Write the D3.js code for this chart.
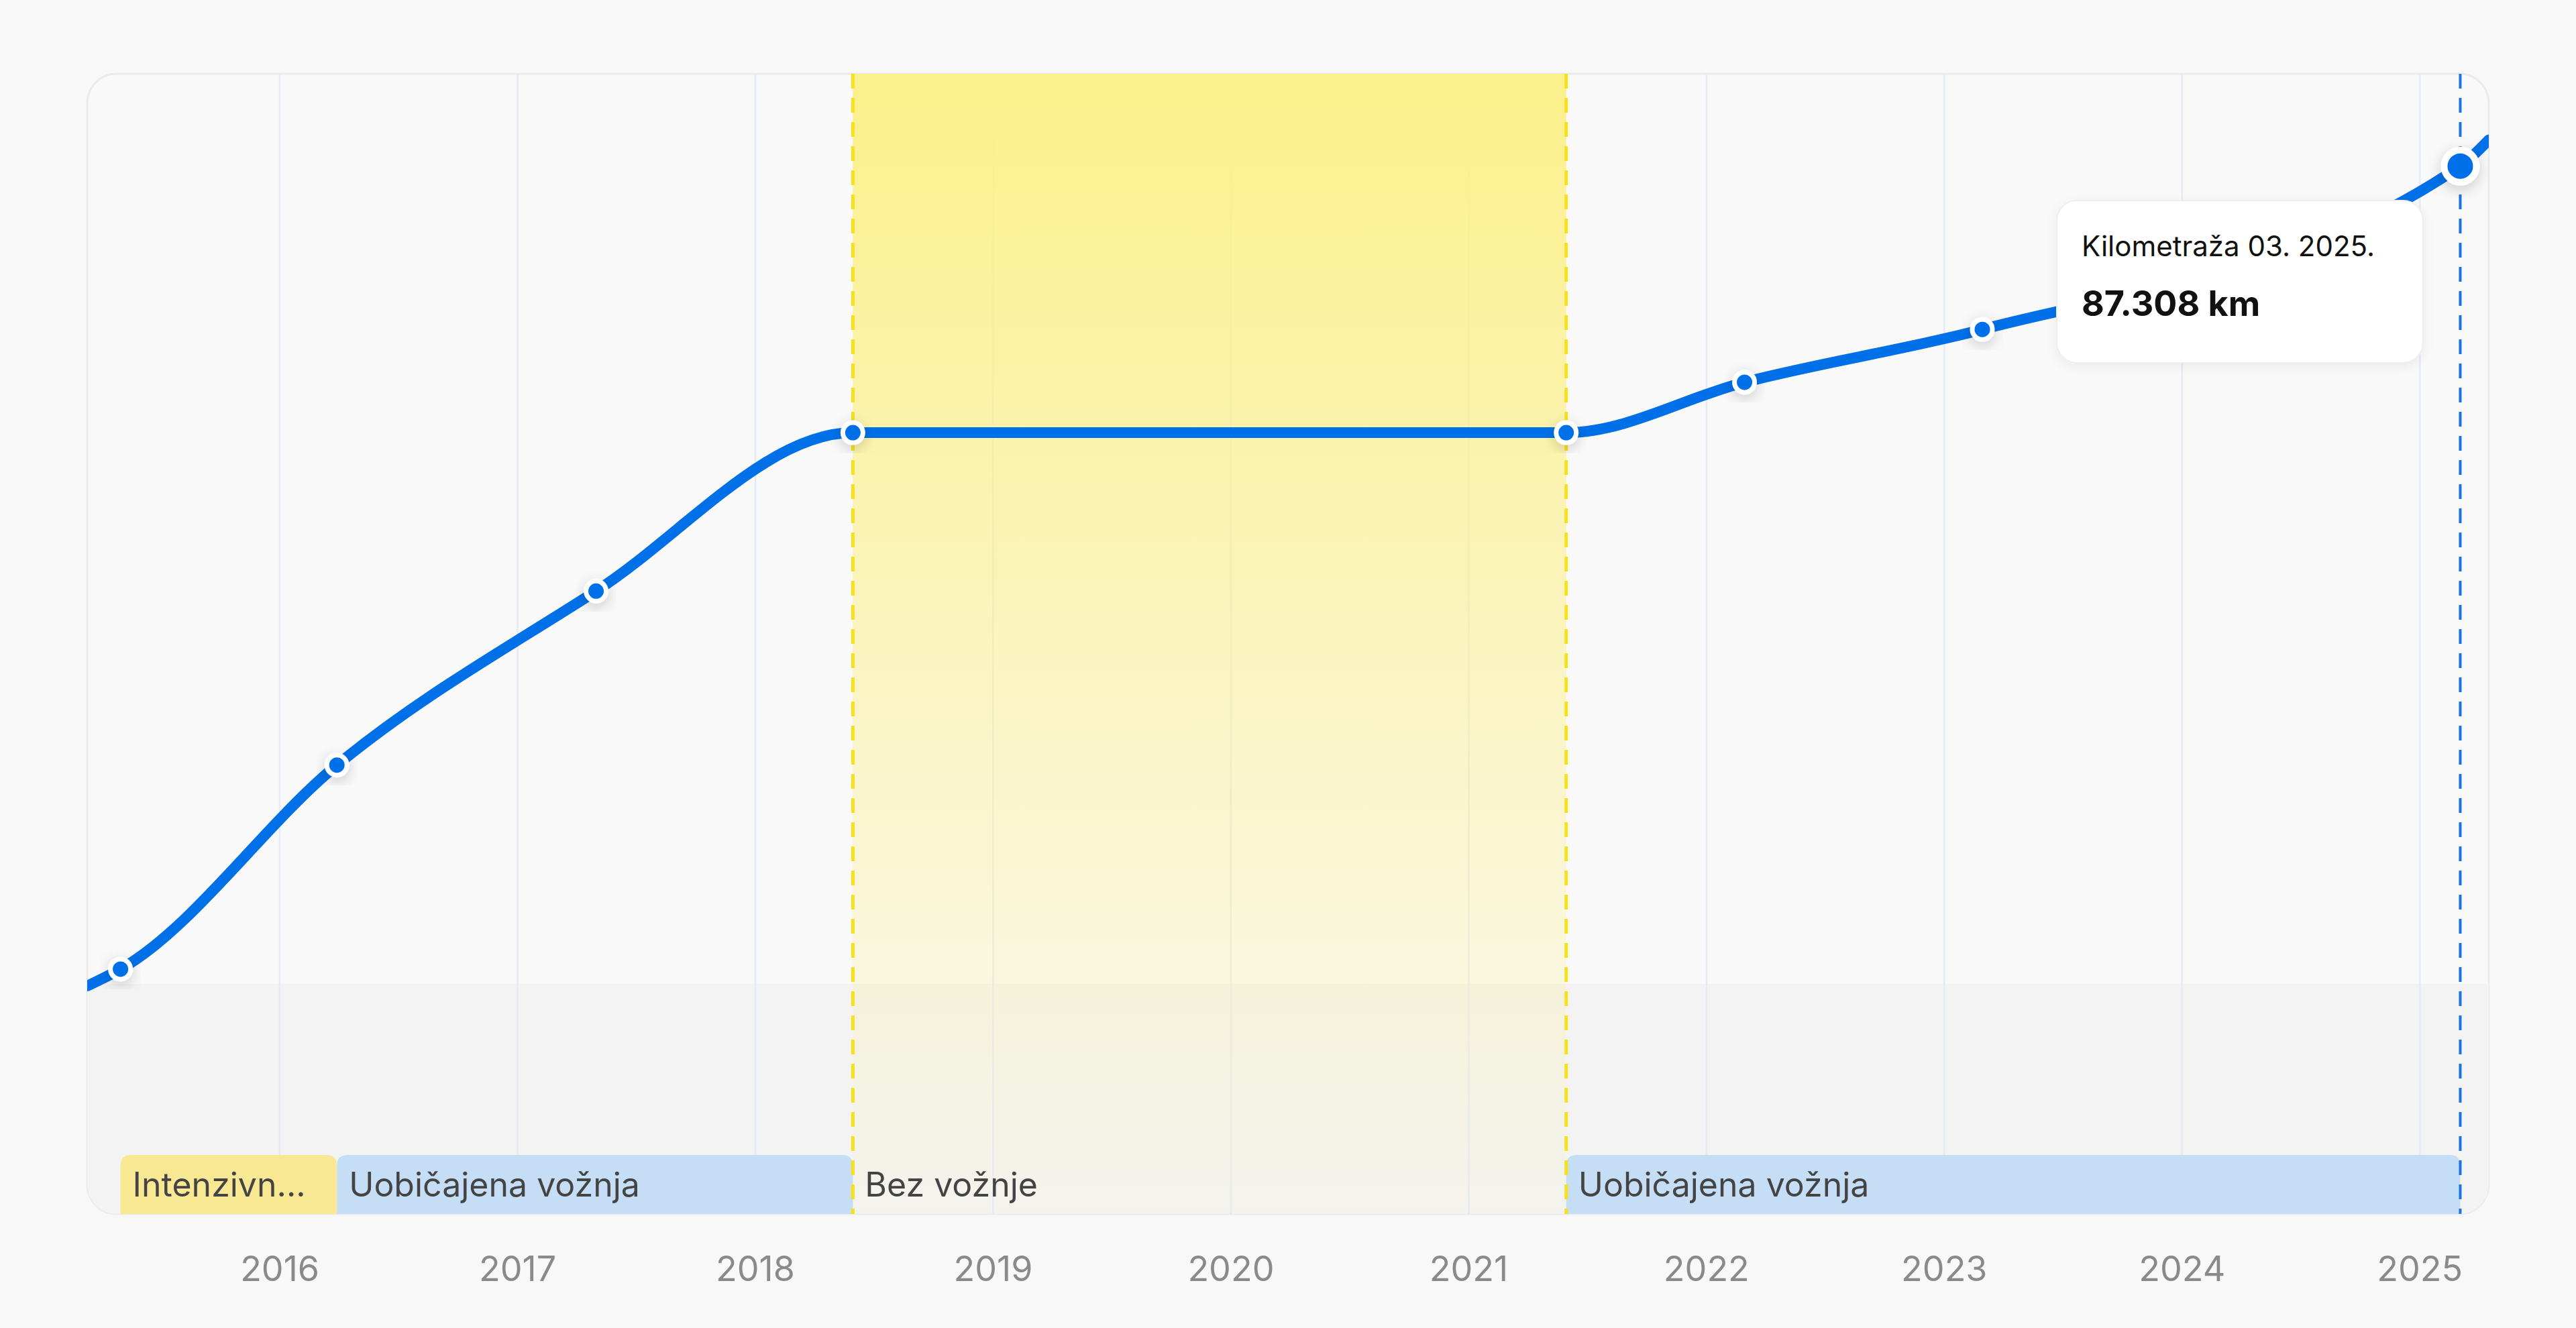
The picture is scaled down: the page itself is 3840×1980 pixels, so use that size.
<!DOCTYPE html>
<html><head><meta charset="utf-8">
<script src="https://cdn.jsdelivr.net/npm/d3@7"></script>
<style>html,body{margin:0;padding:0;background:#f8f8f8;}svg{display:block;font-family:Inter,"Noto Sans",sans-serif;}</style>
</head><body>
<script>
const dates = [2015.19, 2015.33, 2016.24, 2017.33, 2018.41, 2021.41, 2022.16, 2023.16, 2025.17, 2025.29];
const km    = [19000, 20400, 37400, 51900, 65100, 65100, 69300, 73700, 87308, 89500];
const markerIdx = [1,2,3,4,5,6,7];
const years = [2016,2017,2018,2019,2020,2021,2022,2023,2024,2025];
const periods = [
  {from:2015.33,to:2016.24,label:"Intenzivn...",fill:"#f8e793"},
  {from:2016.24,to:2018.41,label:"Uobičajena vožnja",fill:"#c5ddf5"},
  {from:2018.41,to:2021.41,label:"Bez vožnje",fill:"none"},
  {from:2021.41,to:2025.17,label:"Uobičajena vožnja",fill:"#c5ddf5"}
];
const tooltipTitle = "Kilometraža 03. 2025.";
const tooltipValue = "87.308 km";

const W=3840,H=1980, L=130,R=3710,T=110,B=1810;
const svg=d3.select("body").append("svg").attr("width",W).attr("height",H);
const x=d3.scaleLinear().domain([2015.19,2025.29]).range([L,R]);
const y=d3.scaleLinear().domain([0,95000]).range([B,T]);
const defs=svg.append("defs");
const cp=defs.append("clipPath").attr("id","cp");
cp.append("rect").attr("x",L).attr("y",T).attr("width",R-L).attr("height",B-T).attr("rx",44);
const g1=defs.append("linearGradient").attr("id","yg").attr("x1",0).attr("x2",0).attr("y1",0).attr("y2",1);
g1.append("stop").attr("offset","0%").attr("stop-color","#fcf08a").attr("stop-opacity",1);
g1.append("stop").attr("offset","100%").attr("stop-color","#fcf08a").attr("stop-opacity",0.05);
const f=defs.append("filter").attr("id","sh").attr("x","-50%").attr("y","-50%").attr("width","200%").attr("height","200%");
f.append("feDropShadow").attr("dx",0).attr("dy",6).attr("stdDeviation",10).attr("flood-color","#000").attr("flood-opacity",0.18);
const f2=defs.append("filter").attr("id","sh2").attr("x","-20%").attr("y","-20%").attr("width","140%").attr("height","140%");
f2.append("feDropShadow").attr("dx",0).attr("dy",4).attr("stdDeviation",8).attr("flood-color","#000").attr("flood-opacity",0.06);

svg.append("rect").attr("x",L).attr("y",T).attr("width",R-L).attr("height",B-T).attr("rx",44).attr("fill","#f9f9fa").attr("stroke","#ebebeb").attr("stroke-width",3);
const g=svg.append("g").attr("clip-path","url(#cp)");
g.append("rect").attr("x",L).attr("y",1467).attr("width",R-L).attr("height",B-1467).attr("fill","#f3f3f3");
g.selectAll(".grid").data(years).join("line").attr("x1",d=>x(d)).attr("x2",d=>x(d)).attr("y1",T).attr("y2",B).attr("stroke","#e6eaf2").attr("stroke-width",2.5);
const np=periods[2];
g.append("rect").attr("x",x(np.from)).attr("y",T).attr("width",x(np.to)-x(np.from)).attr("height",B-T).attr("fill","url(#yg)");
// period bands
const bh=88;
periods.forEach(p=>{
  if(p.fill!=="none"){
    const x0=x(p.from),x1=x(p.to),r=16,yt=B-bh;
    g.append("path").attr("d",`M${x0},${B}V${yt+r}Q${x0},${yt} ${x0+r},${yt}H${x1-r}Q${x1},${yt} ${x1},${yt+r}V${B}Z`).attr("fill",p.fill);
  }
  g.append("text").attr("x",x(p.from)+18).attr("y",B-26).attr("font-size",50).attr("fill","#444").text(p.label);
});
[np.from,np.to].forEach(v=>g.append("line").attr("x1",x(v)).attr("x2",x(v)).attr("y1",T).attr("y2",B).attr("stroke","#f7e01c").attr("stroke-width",5).attr("stroke-dasharray","22,14"));
g.append("line").attr("x1",x(2025.17)).attr("x2",x(2025.17)).attr("y1",T).attr("y2",B).attr("stroke","#1a73e8").attr("stroke-width",4).attr("stroke-dasharray","22,14");
const line=d3.line().x((d,i)=>x(dates[i])).y(d=>y(d)).curve(d3.curveMonotoneX);
g.append("path").attr("d",line(km)).attr("fill","none").attr("stroke","#0070e8").attr("stroke-width",16).attr("stroke-linecap","round");
g.selectAll(".pt").data(markerIdx).join("circle").attr("cx",i=>x(dates[i])).attr("cy",i=>y(km[i])).attr("r",15).attr("fill","#0070e8").attr("stroke","#fff").attr("stroke-width",7).attr("filter","url(#sh)");
g.append("circle").attr("cx",x(dates[8])).attr("cy",y(km[8])).attr("r",24).attr("fill","#0070e8").attr("stroke","#fff").attr("stroke-width",10).attr("filter","url(#sh)");
// axis labels
svg.selectAll(".yl").data(years).join("text").attr("x",d=>x(d)).attr("y",1910).attr("text-anchor","middle").attr("font-size",52).attr("fill","#8a8a8a").text(d=>d);
// tooltip
const tx=3066,ty=299;
svg.append("rect").attr("x",tx).attr("y",ty).attr("width",546).attr("height",242).attr("rx",30).attr("fill","#fff").attr("stroke","#eeeeee").attr("stroke-width",2).attr("filter","url(#sh2)");
svg.append("text").attr("x",tx+37).attr("y",ty+83).attr("font-size",42).attr("fill","#111").text(tooltipTitle);
svg.append("text").attr("x",tx+37).attr("y",ty+172).attr("font-size",52).attr("font-weight",700).attr("fill","#111").text(tooltipValue);
</script>
</body></html>
